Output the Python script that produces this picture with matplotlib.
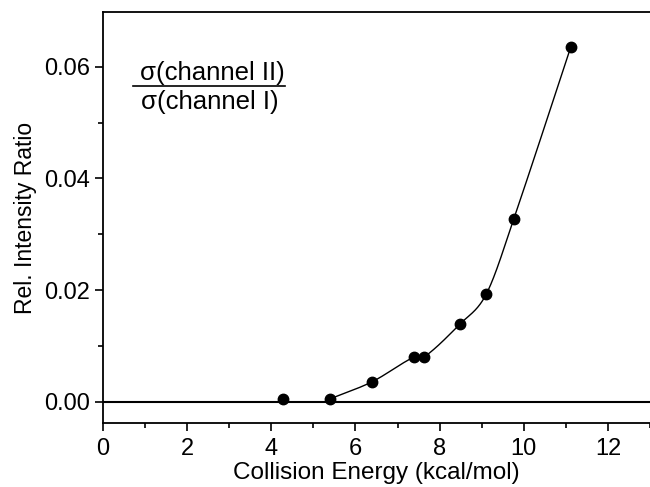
import numpy as np
import matplotlib
matplotlib.use("Agg")
import matplotlib.pyplot as plt
from matplotlib.ticker import MultipleLocator, FormatStrFormatter

plt.rcParams['font.family'] = ['Liberation Sans', 'DejaVu Sans']

energy = [4.28, 5.39, 6.40, 7.39, 7.63, 8.48, 9.11, 9.76, 11.12]
ratio = [0.0005, 0.0005, 0.0036, 0.0080, 0.0080, 0.0139, 0.0193, 0.0327, 0.0636]

# smooth guide curve (cardinal/Catmull-Rom spline) through points from 5.4 upward
def catmull(x, y, xn):
    x = np.asarray(x, float); y = np.asarray(y, float)
    n = len(x); m = np.zeros(n)
    m[0] = (y[1] - y[0]) / (x[1] - x[0])
    m[-1] = (y[-1] - y[-2]) / (x[-1] - x[-2])
    for k in range(1, n - 1):
        m[k] = (y[k+1] - y[k-1]) / (x[k+1] - x[k-1])
    h = np.diff(x)
    idx = np.clip(np.searchsorted(x, xn) - 1, 0, n - 2)
    t = (xn - x[idx]) / h[idx]
    h00 = 2*t**3 - 3*t**2 + 1; h10 = t**3 - 2*t**2 + t
    h01 = -2*t**3 + 3*t**2; h11 = t**3 - t**2
    return h00*y[idx] + h10*h[idx]*m[idx] + h01*y[idx+1] + h11*h[idx]*m[idx+1]

cx = energy[1:]; cy = ratio[1:]
xs = np.linspace(cx[0], cx[-1], 500)
ys = catmull(cx, cy, xs)

fig = plt.figure(figsize=(6.5, 4.87), dpi=100)
ax = fig.add_axes([103/650, 1 - 423/487, (650 - 103)/650, (423 - 12)/487])

ax.axhline(0, color='black', lw=1.5, zorder=1)
ax.plot(xs, ys, color='black', lw=1.0, zorder=2)
ax.plot(energy, ratio, 'o', color='black', ms=7.5, zorder=3)

ax.set_xlim(0, 13)
ax.set_ylim(-0.0038, 0.0698)
ax.xaxis.set_major_locator(MultipleLocator(2))
ax.xaxis.set_minor_locator(MultipleLocator(1))
ax.yaxis.set_major_locator(MultipleLocator(0.02))
ax.yaxis.set_minor_locator(MultipleLocator(0.01))
ax.yaxis.set_major_formatter(FormatStrFormatter('%.2f'))
ax.tick_params(which='both', direction='out', labelsize=17, width=1.2, top=False, right=False)
ax.tick_params(axis='x', which='major', pad=5)
ax.tick_params(which='major', length=6)
ax.tick_params(which='minor', length=3.5)
for s in ['left', 'bottom', 'top']:
    ax.spines[s].set_linewidth(1.3)
ax.spines['right'].set_visible(False)

ax.set_xlabel('Collision Energy (kcal/mol)', fontsize=17.5, labelpad=1)
ax.set_ylabel('Rel. Intensity Ratio', fontsize=16.5, labelpad=5)

fig.text(212/650, 1 - 73/487, 'σ(channel II)', fontsize=18.5, ha='center', va='center')
fig.text(210/650, 1 - 102/487, 'σ(channel I)', fontsize=18.5, ha='center', va='center')
fig.add_artist(plt.Line2D([133/650, 285/650], [1 - 86.5/487, 1 - 86.5/487], color='black', lw=1.2))

fig.savefig('out.png', dpi=100)
